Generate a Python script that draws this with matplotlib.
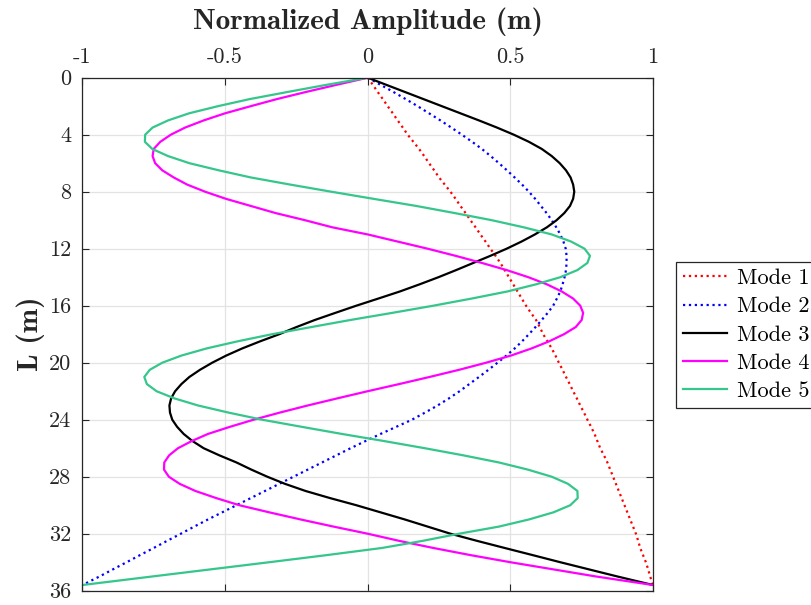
import matplotlib
matplotlib.use("Agg")
import matplotlib.pyplot as plt

# depth along the pile (m), every 0.5 m down to the tip at 35.6 m
depth = [0, 0.5, 1, 1.5, 2, 2.5, 3, 3.5, 4, 4.5,
         5, 5.5, 6, 6.5, 7, 7.5, 8, 8.5, 9, 9.5,
         10, 10.5, 11, 11.5, 12, 12.5, 13, 13.5, 14, 14.5,
         15, 15.5, 16, 16.5, 17, 17.5, 18, 18.5, 19, 19.5,
         20, 20.5, 21, 21.5, 22, 22.5, 23, 23.5, 24, 24.5,
         25, 25.5, 26, 26.5, 27, 27.5, 28, 28.5, 29, 29.5,
         30, 30.5, 31, 31.5, 32, 32.5, 33, 33.5, 34, 34.5,
         35, 35.6]

# normalized mode shapes at each depth
mode1 = [0, 0.018, 0.035, 0.053, 0.07, 0.088, 0.105, 0.123, 0.14, 0.16,
         0.18, 0.198, 0.215, 0.233, 0.25, 0.27, 0.29, 0.308, 0.325, 0.343,
         0.36, 0.378, 0.395, 0.413, 0.43, 0.448, 0.465, 0.48, 0.495, 0.51,
         0.525, 0.54, 0.555, 0.572, 0.59, 0.603, 0.615, 0.63, 0.645, 0.658,
         0.67, 0.683, 0.695, 0.708, 0.72, 0.733, 0.745, 0.758, 0.77, 0.783,
         0.795, 0.805, 0.815, 0.828, 0.84, 0.85, 0.86, 0.87, 0.88, 0.89,
         0.9, 0.91, 0.92, 0.93, 0.94, 0.948, 0.955, 0.965, 0.975, 0.983,
         0.99, 1.0]
mode2 = [0, 0.045, 0.09, 0.133, 0.175, 0.215, 0.255, 0.293, 0.33, 0.366,
         0.40, 0.431, 0.46, 0.488, 0.515, 0.541, 0.565, 0.587, 0.607, 0.627,
         0.645, 0.661, 0.675, 0.686, 0.694, 0.697, 0.697, 0.695, 0.69, 0.683,
         0.675, 0.663, 0.65, 0.631, 0.61, 0.588, 0.565, 0.541, 0.515, 0.486,
         0.455, 0.423, 0.39, 0.356, 0.322, 0.285, 0.245, 0.201, 0.155, 0.1,
         0.045, -0.008, -0.06, -0.11, -0.16, -0.21, -0.26, -0.31, -0.36, -0.41,
         -0.46, -0.51, -0.56, -0.608, -0.655, -0.703, -0.75, -0.798, -0.845, -0.893,
         -0.94, -1.0]
mode3 = [0, 0.065, 0.13, 0.195, 0.26, 0.325, 0.39, 0.453, 0.512, 0.565,
         0.61, 0.645, 0.673, 0.695, 0.711, 0.72, 0.724, 0.72, 0.709, 0.689,
         0.662, 0.628, 0.586, 0.539, 0.487, 0.43, 0.37, 0.31, 0.248, 0.182,
         0.113, 0.037, -0.04, -0.113, -0.185, -0.25, -0.31, -0.377, -0.44, -0.496,
         -0.545, -0.588, -0.625, -0.653, -0.675, -0.689, -0.695, -0.693, -0.685, -0.668,
         -0.645, -0.614, -0.575, -0.52, -0.46, -0.408, -0.352, -0.29, -0.218, -0.132,
         -0.04, 0.045, 0.13, 0.21, 0.29, 0.383, 0.48, 0.578, 0.675, 0.775,
         0.875, 1.0]
mode4 = [0, -0.109, -0.216, -0.318, -0.41, -0.5, -0.575, -0.64, -0.69, -0.727,
         -0.75, -0.754, -0.745, -0.72, -0.68, -0.633, -0.57, -0.497, -0.41, -0.323,
         -0.22, -0.124, 0.0, 0.105, 0.21, 0.308, 0.40, 0.487, 0.563, 0.628,
         0.68, 0.72, 0.745, 0.755, 0.75, 0.729, 0.688, 0.636, 0.574, 0.502,
         0.415, 0.32, 0.217, 0.11, 0.0, -0.106, -0.21, -0.308, -0.40, -0.483,
         -0.56, -0.617, -0.665, -0.696, -0.713, -0.714, -0.697, -0.659, -0.604, -0.531,
         -0.45, -0.345, -0.235, -0.12, 0.0, 0.11, 0.23, 0.36, 0.5, 0.65,
         0.80, 1.0]
mode5 = [0, -0.144, -0.28, -0.413, -0.525, -0.626, -0.70, -0.754, -0.78, -0.781,
         -0.755, -0.70, -0.625, -0.522, -0.41, -0.272, -0.128, 0.02, 0.17, 0.305,
         0.435, 0.547, 0.645, 0.713, 0.76, 0.779, 0.77, 0.735, 0.675, 0.59,
         0.49, 0.364, 0.23, 0.087, -0.06, -0.198, -0.335, -0.456, -0.565, -0.653,
         -0.72, -0.764, -0.783, -0.774, -0.74, -0.678, -0.595, -0.488, -0.37, -0.231,
         -0.09, 0.058, 0.2, 0.335, 0.46, 0.561, 0.645, 0.702, 0.735, 0.736,
         0.71, 0.651, 0.565, 0.46, 0.32, 0.193, 0.05, -0.143, -0.345, -0.55,
         -0.755, -1.0]

x_ticks = [-1, -0.5, 0, 0.5, 1]
x_tick_labels = ["-1", "-0.5", "0", "0.5", "1"]
y_ticks = [0, 4, 8, 12, 16, 20, 24, 28, 32, 36]

series = [
    ("Mode 1", mode1, "#FF0000", ":"),
    ("Mode 2", mode2, "#0000FF", ":"),
    ("Mode 3", mode3, "#000000", "-"),
    ("Mode 4", mode4, "#FF00FF", "-"),
    ("Mode 5", mode5, "#35C68B", "-"),
]

plt.rcParams["font.family"] = "cmr10"
plt.rcParams["axes.unicode_minus"] = False

fig = plt.figure(figsize=(8.11, 6.05), dpi=100)
ax = fig.add_axes([0.1016, 0.0236, 0.7036, 0.848])

for name, values, color, style in series:
    # trailing spaces widen the legend box past the right edge of the figure
    ax.plot(values, depth, color=color, linestyle=style, linewidth=1.6,
            label=name + "   ")

ax.set_xlim(-1, 1)
ax.set_ylim(36, 0)
ax.set_xticks(x_ticks)
ax.set_xticklabels(x_tick_labels)
ax.set_yticks(y_ticks)
ax.set_yticklabels([str(t) for t in y_ticks])

# amplitude axis sits on top, depth grows downward
ax.xaxis.tick_top()
ax.xaxis.set_label_position("top")
ax.tick_params(which="both", direction="in", length=5, width=0.8,
               top=True, bottom=True, left=True, right=True,
               labelsize=16, colors="#262626", pad=8)
ax.tick_params(axis="x", labeltop=True, labelbottom=False)

ax.grid(True, color="#E3E3E3", linewidth=0.9)
ax.set_axisbelow(True)
for spine in ax.spines.values():
    spine.set_color("#262626")
    spine.set_linewidth(0.9)

ax.set_xlabel("Normalized Amplitude (m)", fontfamily="cmb10", fontsize=21,
              color="#262626", labelpad=13)
ax.set_ylabel("L (m)", fontfamily="cmb10", fontsize=21, color="#262626",
              labelpad=3)

leg = ax.legend(loc="upper left", bbox_to_anchor=(0.8335, 0.567),
                bbox_transform=fig.transFigure, fontsize=16, frameon=True,
                fancybox=False, framealpha=1, edgecolor="#262626",
                borderpad=0.3, labelspacing=0.39, handlelength=2.0,
                handletextpad=0.45, borderaxespad=0)
leg.get_frame().set_linewidth(0.9)

fig.savefig("out.png", dpi=100, facecolor="white")
